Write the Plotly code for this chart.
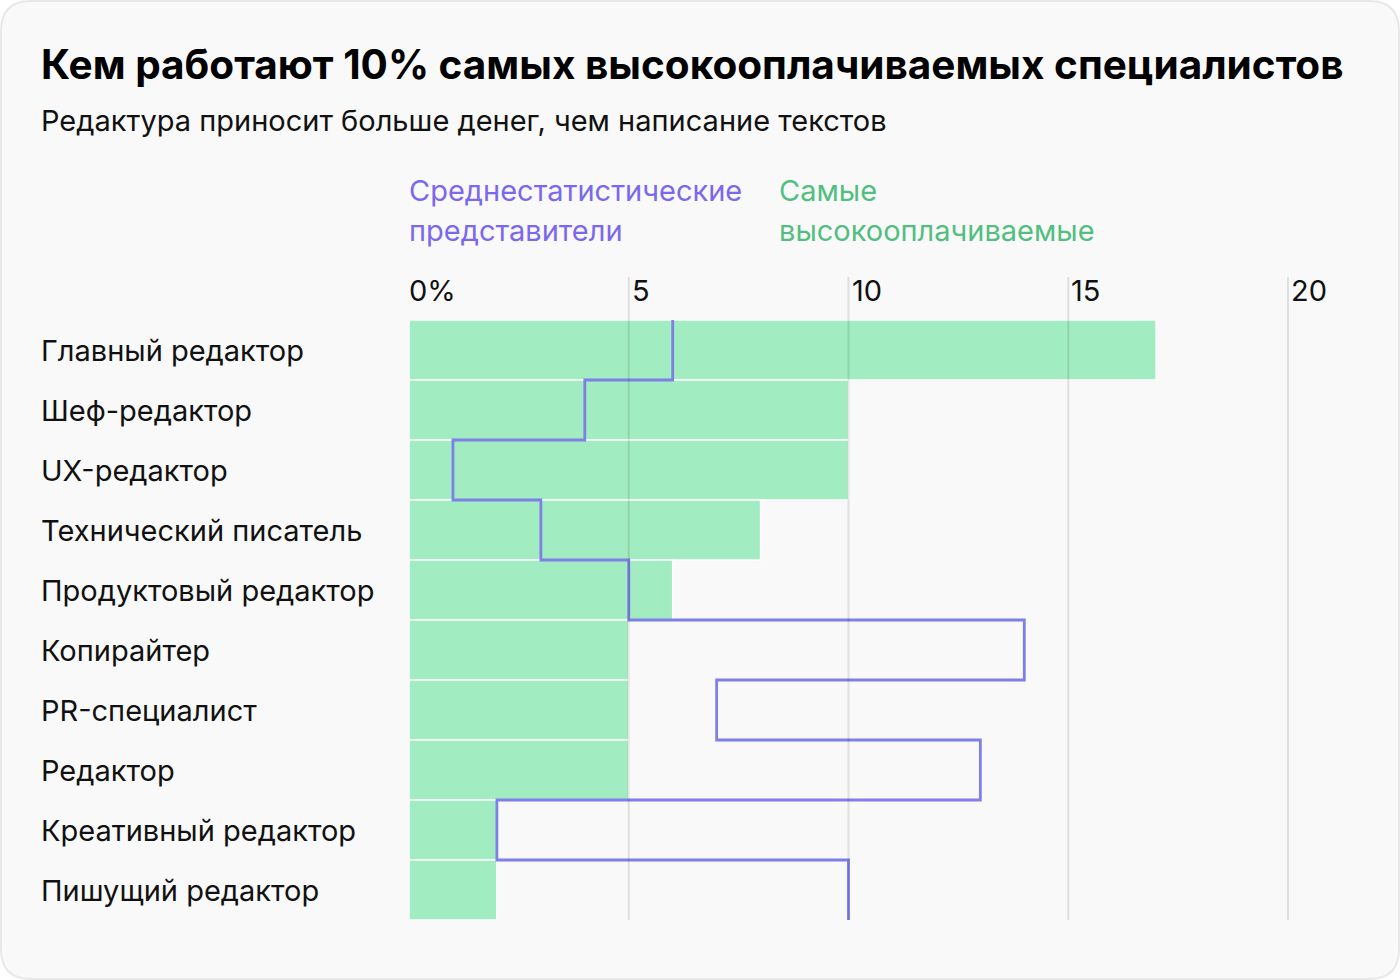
import plotly.graph_objects as go

categories = [
    "Главный редактор",
    "Шеф-редактор",
    "UX-редактор",
    "Технический писатель",
    "Продуктовый редактор",
    "Копирайтер",
    "PR-специалист",
    "Редактор",
    "Креативный редактор",
    "Пишущий редактор",
]
top_paid = [17, 10, 10, 8, 6, 5, 5, 5, 2, 2]
average = [6, 4, 1, 3, 5, 14, 7, 13, 2, 10]
tick_values = [0, 5, 10, 15, 20]
tick_labels = ["0%", "5", "10", "15", "20"]

title = "Кем работают 10% самых высокооплачиваемых специалистов"
subtitle = "Редактура приносит больше денег, чем написание текстов"
legend_avg = ["Среднестатистические", "представители"]
legend_top = ["Самые", "высокооплачиваемые"]

W, H = 1400, 980
ML, MR, MT, MB = 409, 34, 320, 60
PW, PH = W - ML - MR, H - MT - MB
UNIT = 43.95
XMAX = PW / UNIT

GREEN = "#a1ecc0"
PURPLE_LINE = "#7f7fe8"
PURPLE_TXT = "#7b68ee"
GREEN_TXT = "#52be80"
FONT = "Inter"
FS = 29


def px(x):
    return (x - ML) / PW


def py(y):
    return (H - MB - y) / PH


idx = list(range(len(categories)))

# step line built from the average values
sx, sy = [], []
for i, v in zip(idx, average):
    sx += [v, v]
    sy += [i - 0.5, i + 0.5]

fig = go.Figure()
fig.add_trace(go.Bar(
    x=top_paid, y=idx, orientation="h", width=1,
    marker=dict(color=GREEN, line=dict(color="white", width=1.5)),
    hoverinfo="skip", showlegend=False,
))
fig.add_trace(go.Scatter(
    x=sx, y=sy, mode="lines",
    line=dict(color=PURPLE_LINE, width=2.8),
    hoverinfo="skip", showlegend=False,
))

shapes = []
# card background with rounded corners
r = 30
x0, x1, y0, y1 = 1, W - 1, 1, H - 1
path = (
    f"M {px(x0 + r)} {py(y0)} L {px(x1 - r)} {py(y0)} "
    f"Q {px(x1)} {py(y0)} {px(x1)} {py(y0 + r)} "
    f"L {px(x1)} {py(y1 - r)} Q {px(x1)} {py(y1)} {px(x1 - r)} {py(y1)} "
    f"L {px(x0 + r)} {py(y1)} Q {px(x0)} {py(y1)} {px(x0)} {py(y1 - r)} "
    f"L {px(x0)} {py(y0 + r)} Q {px(x0)} {py(y0)} {px(x0 + r)} {py(y0)} Z"
)
shapes.append(dict(type="path", xref="paper", yref="paper", path=path,
                   fillcolor="#f9f9f9", line=dict(color="#e8e8e8", width=2),
                   layer="below"))
# gridlines above bars
for t in tick_values[1:]:
    shapes.append(dict(type="line", xref="x", yref="paper", x0=t, x1=t,
                       y0=0, y1=py(277), layer="above",
                       line=dict(color="rgba(0,0,0,0.1)", width=2)))

annotations = []
annotations.append(dict(text=f"<b>{title}</b>", xref="paper", yref="paper",
                        x=px(39), y=py(65), xanchor="left", yanchor="middle",
                        showarrow=False, font=dict(family=FONT, size=40.5, color="#000")))
annotations.append(dict(text=subtitle, xref="paper", yref="paper",
                        x=px(39), y=py(120), xanchor="left", yanchor="middle",
                        showarrow=False, font=dict(family=FONT, size=FS, color="#111")))
for k, line in enumerate(legend_avg):
    annotations.append(dict(text=line, xref="paper", yref="paper",
                            x=px(407), y=py(190 + 40 * k), xanchor="left", yanchor="middle",
                            showarrow=False, font=dict(family=FONT, size=FS, color=PURPLE_TXT)))
for k, line in enumerate(legend_top):
    annotations.append(dict(text=line, xref="paper", yref="paper",
                            x=px(777), y=py(190 + 40 * k), xanchor="left", yanchor="middle",
                            showarrow=False, font=dict(family=FONT, size=FS, color=GREEN_TXT)))
for t, lab in zip(tick_values, tick_labels):
    annotations.append(dict(text=lab, xref="x", yref="paper",
                            x=t, y=py(290), xanchor="left", yanchor="middle",
                            xshift=(0 if t == 0 else 3) - 2,
                            showarrow=False, font=dict(family=FONT, size=FS, color="#111")))
for i, c in zip(idx, categories):
    annotations.append(dict(text=c, xref="paper", yref="y",
                            x=px(39), y=i, xanchor="left", yanchor="middle",
                            showarrow=False, font=dict(family=FONT, size=FS, color="#111")))

fig.update_layout(
    width=W, height=H,
    margin=dict(l=ML, r=MR, t=MT, b=MB, pad=0),
    paper_bgcolor="white", plot_bgcolor="rgba(0,0,0,0)",
    xaxis=dict(range=[0, XMAX], showgrid=False, zeroline=False,
               showticklabels=False, fixedrange=True),
    yaxis=dict(range=[len(categories) - 0.5, -0.5], showgrid=False, zeroline=False,
               showticklabels=False, fixedrange=True),
    bargap=0,
    shapes=shapes,
    annotations=annotations,
)

fig.write_html("out.html", config={"displayModeBar": False, "staticPlot": True},
               post_script="document.body.style.margin='0';document.body.style.overflow='hidden';")
